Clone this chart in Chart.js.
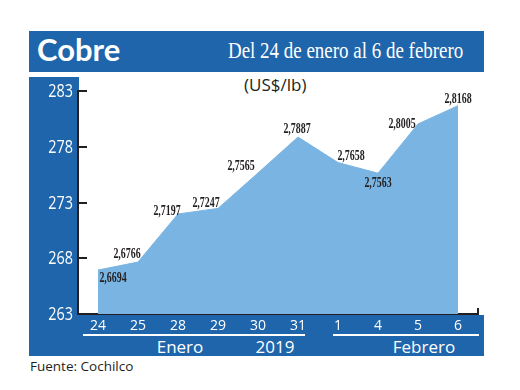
<!DOCTYPE html>
<html>
<head>
<meta charset="utf-8">
<script src="https://cdn.jsdelivr.net/npm/chart.js@4.4.1/dist/chart.umd.min.js"></script>
<style>
  html, body { margin: 0; padding: 0; background: #ffffff; }
  #wrap { position: relative; width: 520px; height: 390px; overflow: hidden; font-family: 'Open Sans', sans-serif; }
  .blue { position: absolute; background: #1f65ab; }
  #title { left: 29px; top: 31px; width: 455px; height: 41px; }
  #leftcol { left: 29px; top: 77px; width: 50px; height: 279px; }
  #bottombar { left: 79px; top: 315px; width: 405px; height: 41px; }
  .txt { position: absolute; white-space: nowrap; }
  #cobre { left: 37px; top: 30px; font-family: Lato, sans-serif; font-weight: bold; font-size: 31px; color: #fff; }
  #sub { left: 228px; top: 37px; font-family: 'Liberation Serif', serif; font-size: 24px; color: #fff; transform: scaleX(0.79); transform-origin: left center; }
  #unit { left: 244px; top: 73px; font-size: 17px; color: #231f20; }
  #fuente { left: 30px; top: 357px; font-size: 13.5px; color: #231f20; }
  .grp { position: absolute; font-size: 17px; color: #fff; transform: translateX(-50%); top: 335px; white-space: nowrap; }
  .rule { position: absolute; height: 1.5px; background: #fff; top: 334px; }
  canvas { position: absolute; left: 0; top: 0; }
</style>
</head>
<body>
<div id="wrap">
  <div class="blue" id="title"></div>
  <div class="blue" id="leftcol"></div>
  <div class="blue" id="bottombar"></div>
  <div class="txt" id="cobre">Cobre</div>
  <div class="txt" id="sub">Del 24 de enero al 6 de febrero</div>
  <div class="txt" id="unit">(US$/lb)</div>
  <div class="rule" style="left:83px;width:222px;"></div>
  <div class="rule" style="left:333px;width:146px;"></div>
  <div class="grp" style="left:180px;">Enero</div>
  <div class="grp" style="left:275px;">2019</div>
  <div class="grp" style="left:424px;">Febrero</div>
  <div class="txt" id="fuente">Fuente: Cochilco</div>
  <canvas id="c" width="520" height="390"></canvas>
</div>
<script>
// ---- data ----
const categories = ['24', '25', '28', '29', '30', '31', '1', '4', '5', '6'];
const values = [266.94, 267.66, 271.97, 272.47, 275.65, 278.87, 276.58, 275.63, 280.05, 281.68];
const valueLabels = ['2,6694', '2,6766', '2,7197', '2,7247', '2,7565', '2,7887', '2,7658', '2,7563', '2,8005', '2,8168'];
const yTicks = [263, 268, 273, 278, 283];

// label placement relative to each point (style only)
const labelOffsets = [[15, 8], [-11, -8], [-11, -3], [-12, -5], [-17, -7], [-1, -8], [13, -6], [0, 10], [-16, 0], [0, -7]];

const ink = '#231f20';

const decorPlugin = {
  id: 'decor',
  beforeDatasetsDraw(chart) {
    const ctx = chart.ctx;
    const y = chart.scales.y;
    const area = chart.chartArea;
    ctx.save();
    ctx.strokeStyle = ink;
    ctx.lineWidth = 2;
    y.ticks.forEach((t, i) => {
      const py = Math.round(y.getPixelForTick(i));
      ctx.beginPath();
      ctx.moveTo(area.left, py);
      ctx.lineTo(area.left + 9, py);
      ctx.stroke();
      // tick label (condensed)
      ctx.save();
      ctx.fillStyle = '#ffffff';
      ctx.font = '18px "Open Sans", sans-serif';
      ctx.textAlign = 'right';
      ctx.textBaseline = 'middle';
      ctx.translate(area.left - 5, py + 1);
      ctx.scale(0.8, 1);
      ctx.fillText(String(t.value), 0, 0);
      ctx.restore();
    });
    ctx.beginPath();
    ctx.moveTo(area.right, area.bottom + 1);
    ctx.lineTo(area.right, area.bottom - 6);
    ctx.stroke();
    ctx.restore();
  },
  afterDatasetsDraw(chart) {
    const ctx = chart.ctx;
    const meta = chart.getDatasetMeta(0);
    ctx.save();
    ctx.fillStyle = ink;
    ctx.font = 'bold 15px "Liberation Serif", serif';
    ctx.textAlign = 'center';
    ctx.textBaseline = 'middle';
    meta.data.forEach((pt, i) => {
      const off = labelOffsets[i];
      ctx.save();
      ctx.translate(pt.x + off[0], pt.y + off[1]);
      ctx.scale(0.66, 1);
      ctx.fillText(valueLabels[i], 0, 0);
      ctx.restore();
    });
    ctx.restore();
  }
};

new Chart(document.getElementById('c'), {
  type: 'line',
  data: {
    labels: categories,
    datasets: [{
      data: values,
      fill: 'start',
      backgroundColor: '#7ab4e2',
      borderColor: '#7ab4e2',
      borderWidth: 1,
      pointRadius: 0,
      tension: 0
    }]
  },
  options: {
    responsive: false,
    animation: false,
    devicePixelRatio: 1,
    layout: { padding: { left: 0, top: 91, right: 42, bottom: 56 } },
    plugins: { legend: { display: false }, tooltip: { enabled: false } },
    scales: {
      x: {
        type: 'category',
        offset: true,
        grid: { display: false, drawTicks: false },
        border: { display: true, color: ink, width: 2 },
        ticks: {
          color: '#ffffff',
          padding: 4,
          maxRotation: 0,
          autoSkip: false,
          font: { family: "'Open Sans', sans-serif", size: 14 }
        },
        afterFit(s) { s.height = 20; }
      },
      y: {
        min: 263,
        max: 283,
        afterBuildTicks(s) { s.ticks = yTicks.map(v => ({ value: v })); },
        grid: { display: false, drawTicks: false },
        border: { display: true, color: ink, width: 2 },
        ticks: { display: false },
        afterFit(s) { s.width = 78; }
      }
    }
  },
  plugins: [decorPlugin]
});
</script>
</body>
</html>
